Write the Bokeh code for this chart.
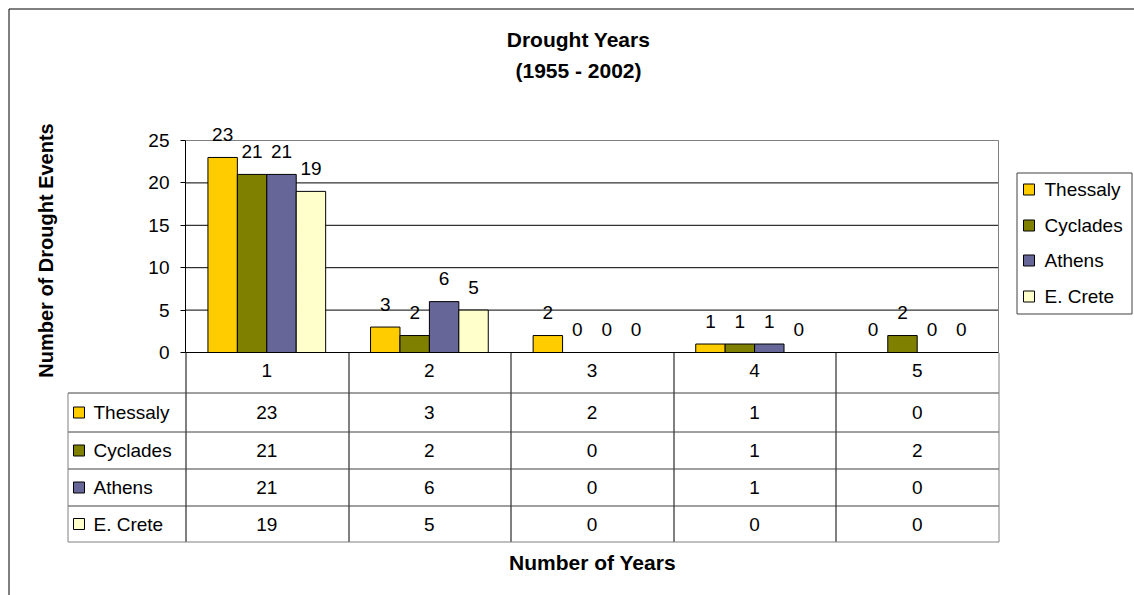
import math
from bokeh.plotting import figure
from bokeh.models import ColumnDataSource, Range1d, FixedTicker, LabelSet, Label
from bokeh.core.properties import value
from bokeh.embed import file_html
from bokeh.resources import INLINE

# ---------------- data ----------------
categories = ["1", "2", "3", "4", "5"]
series_names = ["Thessaly", "Cyclades", "Athens", "E. Crete"]
thessaly = [23, 3, 2, 1, 0]
cyclades = [21, 2, 0, 1, 2]
athens = [21, 6, 0, 1, 0]
e_crete = [19, 5, 0, 0, 0]
series_values = [thessaly, cyclades, athens, e_crete]
colors = ["#FFCC00", "#808000", "#666699", "#FFFFCC"]
y_ticks = [0, 5, 10, 15, 20, 25]
title_lines = ["Drought Years", "(1955 - 2002)"]
x_title = "Number of Years"
y_title = "Number of Drought Events"

FONT = "Liberation Sans"
FS = "19px"

# ---------------- geometry (page px) ----------------
W, H = 1134, 595
PL, PR, PT, PB = 185, 998, 140, 352      # bar-plot area
X0, X1 = 0.5, len(categories) + 0.5
Y0, Y1 = 0, 25

def dx(px):
    return X0 + (px - PL) / (PR - PL) * (X1 - X0)

def dy(py):
    return Y0 + (PB - py) / (PB - PT) * (Y1 - Y0)

p = figure(width=W, height=H, output_backend="svg", toolbar_location=None,
           title=None,
           x_range=Range1d(dx(0), dx(W)), y_range=Range1d(dy(H), dy(0)),
           min_border_left=0, min_border_right=0, min_border_top=0, min_border_bottom=0)
p.background_fill_color = "white"
p.border_fill_color = "white"
p.outline_line_color = None
p.xgrid.grid_line_color = None
p.ygrid.grid_line_color = None

xs_num = list(range(1, len(categories) + 1))

# y axis at the left edge of the bar area
p.yaxis.fixed_location = X0
p.yaxis.bounds = (Y0, Y1)
p.yaxis.ticker = FixedTicker(ticks=y_ticks)
p.yaxis.major_tick_out = 5
p.yaxis.major_tick_in = 0
p.yaxis.minor_tick_out = 0
p.yaxis.minor_tick_in = 0
p.yaxis.axis_line_color = "black"
p.yaxis.major_tick_line_color = "black"
p.yaxis.major_label_text_font = FONT
p.yaxis.major_label_text_font_size = FS
p.yaxis.major_label_text_color = "black"
p.yaxis.major_label_standoff = 11

# x axis along zero
p.xaxis.fixed_location = Y0
p.xaxis.bounds = (X0, X1)
p.xaxis.ticker = FixedTicker(ticks=xs_num)
p.xaxis.major_label_overrides = {i: c for i, c in zip(xs_num, categories)}
p.xaxis.major_tick_out = 0
p.xaxis.major_tick_in = 0
p.xaxis.minor_tick_out = 0
p.xaxis.minor_tick_in = 0
p.xaxis.axis_line_color = "black"
p.xaxis.major_label_text_font = FONT
p.xaxis.major_label_text_font_size = FS
p.xaxis.major_label_text_color = "black"
p.xaxis.major_label_standoff = 11

# grid lines and plot-area frame
grid_y = y_ticks[1:-1]
p.segment(x0=[X0] * len(grid_y), x1=[X1] * len(grid_y), y0=grid_y, y1=grid_y,
          line_color="black", line_width=1)
p.segment(x0=[X0, X1], x1=[X1, X1], y0=[Y1, Y0], y1=[Y1, Y1],
          line_color="#808080", line_width=1)

# bars
n = len(series_names)
bar_w = 0.181
offsets = [(i - (n - 1) / 2) * bar_w for i in range(n)]
for name, vals, col, off in zip(series_names, series_values, colors, offsets):
    src = ColumnDataSource(dict(x=[c + off for c in xs_num], top=vals,
                                txt=[str(v) for v in vals]))
    p.vbar(x="x", top="top", width=bar_w, source=src, fill_color=col,
           line_color="black", line_width=1)
    p.add_layout(LabelSet(x="x", y="top", text="txt", source=src, y_offset=23,
                          text_align="center", text_baseline="middle",
                          text_font=value(FONT), text_font_size=value(FS),
                          text_color="black"))

# ---------------- helpers for the surrounding layout ----------------
def lines(segs, color, width=1):
    p.segment(x0=[dx(s[0]) for s in segs], y0=[dy(s[1]) for s in segs],
              x1=[dx(s[2]) for s in segs], y1=[dy(s[3]) for s in segs],
              line_color=color, line_width=width)

def box(l, t, r, b, fill, line="black"):
    p.quad(left=dx(l), right=dx(r), top=dy(t), bottom=dy(b),
           fill_color=fill, line_color=line, line_width=1)

def label(x, y, text, size=FS, bold=False, align="left", angle=0.0):
    p.add_layout(Label(x=dx(x), y=dy(y), text=text, text_font=FONT,
                       text_font_size=size, text_font_style="bold" if bold else "normal",
                       text_align=align, text_baseline="middle", angle=angle,
                       text_color="black"))

# outer chart border (runs off the page on right/bottom)
lines([(8.5, 8.5, W + 5, 8.5), (8.5, 8.5, 8.5, H + 5)], "black")

# ---------------- data table ----------------
col_edges = [185.5, 348.5, 510.5, 673.5, 835.5, 998.5]
row_edges = [392.5, 431.5, 468.5, 505.5, 541.5]
tab_left = 67.5
lines([(x, 352.5, x, row_edges[-1]) for x in col_edges[:-1]], "black")
lines([(tab_left, y, col_edges[-1], y) for y in row_edges[:-1]], "#404040")
lines([(col_edges[-1], 352.5, col_edges[-1], row_edges[-1]),
       (tab_left, row_edges[0], tab_left, row_edges[-1]),
       (tab_left, row_edges[-1], col_edges[-1], row_edges[-1])], "#808080")

for i, (name, vals, col) in enumerate(zip(series_names, series_values, colors)):
    yc = (row_edges[i] + row_edges[i + 1]) / 2
    box(73, yc - 5.5, 84, yc + 5.5, col)
    label(93, yc, name)
    src = ColumnDataSource(dict(x=xs_num, y=[dy(yc)] * len(vals),
                                txt=[str(v) for v in vals]))
    p.add_layout(LabelSet(x="x", y="y", text="txt", source=src,
                          text_align="center", text_baseline="middle",
                          text_font=value(FONT), text_font_size=value(FS),
                          text_color="black"))

# ---------------- legend ----------------
box(1016.5, 172.5, 1131.5, 313.5, "white", "#404040")
leg_y = [189, 225, 260, 296]
for name, col, yc in zip(series_names, colors, leg_y):
    box(1023, yc - 5.5, 1034, yc + 5.5, col)
    label(1044, yc, name)

# ---------------- titles ----------------
label(578, 39, title_lines[0], size="21px", bold=True, align="center")
label(578, 70, title_lines[1], size="21px", bold=True, align="center")
label(592, 562, x_title, size="21px", bold=True, align="center")
label(45, 250, y_title, size="20px", bold=True, align="center", angle=math.pi / 2)

open("out.html", "w").write(file_html(p, INLINE))
